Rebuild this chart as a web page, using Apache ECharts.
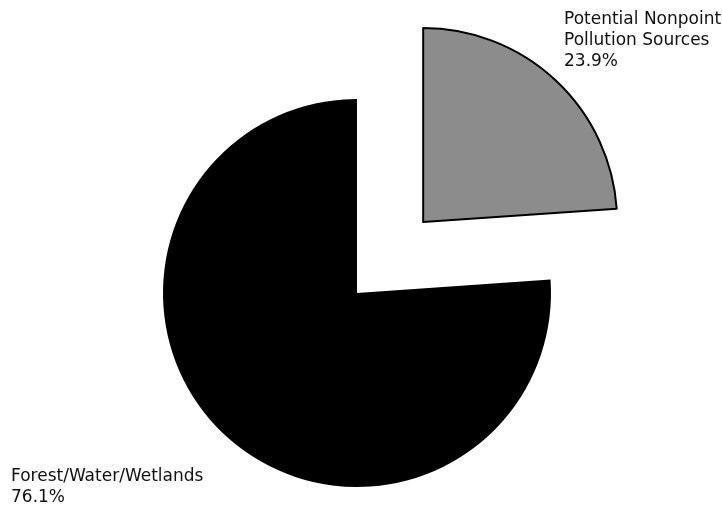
<!DOCTYPE html>
<html>
<head>
<meta charset="utf-8">
<script src="https://cdn.jsdelivr.net/npm/echarts@6/dist/echarts.min.js"></script>
<style>html,body{margin:0;padding:0;background:#fff;}#c{width:722px;height:505px;}</style>
</head>
<body>
<div id="c"></div>
<script>
const categories = ['Potential Nonpoint\nPollution Sources', 'Forest/Water/Wetlands'];
const values = [23.9, 76.1];
const colors = ['#8c8c8c', '#000000'];
const labelPos = [[564, 9], [11, 466]];

const chart = echarts.init(document.getElementById('c'), null, {renderer: 'canvas'});
chart.setOption({
  backgroundColor: '#ffffff',
  animation: false,
  graphic: categories.map((n, i) => ({
    type: 'text',
    left: labelPos[i][0],
    top: labelPos[i][1],
    style: {
      text: n + '\n' + values[i].toFixed(1) + '%',
      font: '17px "DejaVu Sans"',
      lineHeight: 21,
      fill: '#111'
    }
  })),
  series: [{
    type: 'pie',
    center: [357, 293],
    radius: [0, 194],
    startAngle: 90,
    clockwise: true,
    selectedMode: 'single',
    selectedOffset: 97,
    data: categories.map((n, i) => ({
      name: n,
      value: values[i],
      selected: i === 0,
      itemStyle: {color: colors[i], borderColor: '#000', borderWidth: i === 0 ? 2 : 0}
    })),
    label: {show: false},
    labelLine: {show: false},
    emphasis: {disabled: true}
  }]
});
</script>
</body>
</html>
